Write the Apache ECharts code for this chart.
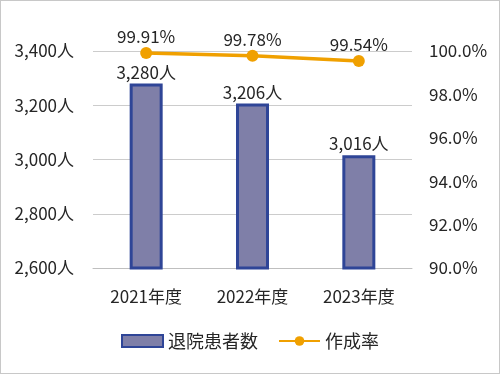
<!DOCTYPE html>
<html><head><meta charset="utf-8">
<script src="https://cdn.jsdelivr.net/npm/echarts@6/dist/echarts.min.js"></script>
<style>
html,body{margin:0;padding:0;background:#fff;}
#c{width:500px;height:374px;box-sizing:border-box;border:1px solid #c8c8c8;}
</style></head>
<body><div id="c"></div>
<script>
const categories = ['2021年度','2022年度','2023年度'];
const patients = [3280, 3206, 3016];
const rates = [99.91, 99.78, 99.54];
const leftTicks = {min:2600, max:3400, interval:200};
const rightTicks = {min:90, max:100, interval:2};

const font = '"Noto Sans CJK JP", "Noto Sans", sans-serif';
const txt = '#262626';
const chart = echarts.init(document.getElementById('c'), null, {renderer:'canvas'});
chart.setOption({
  animation:false,
  textStyle:{fontFamily:font},
  grid:{left:92, right:87, top:50, bottom:105, containLabel:false},
  legend:{
    bottom:18, left:'center', itemGap:20, itemWidth:41, itemHeight:12,
    textStyle:{fontFamily:font, fontSize:18, color:txt},
    data:[{name:'退院患者数', icon:'rect'},{name:'作成率'}]
  },
  xAxis:{
    type:'category', data:categories,
    axisLine:{show:true, lineStyle:{color:'#bfbfbf', width:1}},
    axisTick:{show:false},
    axisLabel:{fontFamily:font, fontSize:17, color:txt, margin:20}
  },
  yAxis:[
    {type:'value', min:leftTicks.min, max:leftTicks.max, interval:leftTicks.interval,
     axisLine:{show:false}, axisTick:{show:false},
     splitLine:{lineStyle:{color:'#cccccc', width:1}},
     axisLabel:{fontFamily:font, fontSize:17, color:txt, margin:19,
       formatter:v=>v.toLocaleString('en-US')+'人'}},
    {type:'value', min:rightTicks.min, max:rightTicks.max, interval:rightTicks.interval,
     axisLine:{show:false}, axisTick:{show:false}, splitLine:{show:false},
     axisLabel:{fontFamily:font, fontSize:17, color:txt, margin:17,
       formatter:v=>v.toFixed(1)+'%'}}
  ],
  series:[
    {name:'退院患者数', type:'bar', data:patients, barWidth:33, yAxisIndex:0,
     itemStyle:{color:'#7f7fa8', borderColor:'#2f4597', borderWidth:3},
     label:{show:true, position:'top', distance:3, fontFamily:font, fontSize:17, color:txt,
       formatter:p=>p.value.toLocaleString('en-US')+'人'}},
    {name:'作成率', type:'line', data:rates, yAxisIndex:1,
     symbol:'circle', symbolSize:12,
     lineStyle:{color:'#f0a000', width:3.5},
     itemStyle:{color:'#f0a000'},
     label:{show:true, position:'top', distance:2, fontFamily:font, fontSize:17, color:txt,
       formatter:p=>p.value.toFixed(2)+'%'}}
  ]
});
</script></body></html>
